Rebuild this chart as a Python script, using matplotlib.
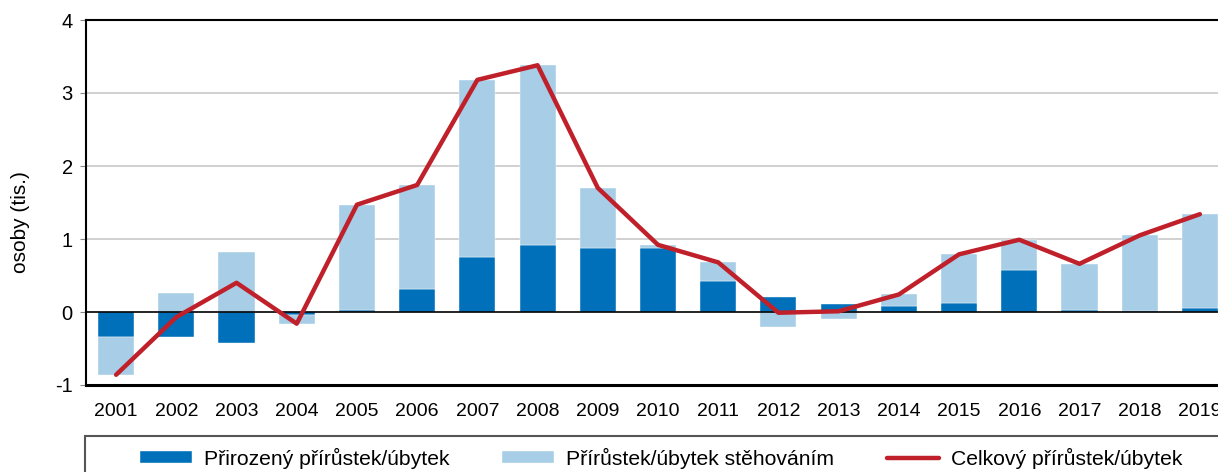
import matplotlib
matplotlib.use("Agg")
import matplotlib.pyplot as plt
from matplotlib.patches import Rectangle
import numpy as np

plt.rcParams['font.family'] = ['Liberation Sans', 'DejaVu Sans']

years = [str(y) for y in range(2001, 2020)]
# prirozeny prirustek (tis. osob)
natural = [-0.34, -0.34, -0.42, -0.04, 0.03, 0.32, 0.75, 0.92, 0.88, 0.88,
           0.42, 0.20, 0.11, 0.08, 0.12, 0.57, 0.03, 0.02, 0.05]
# prirustek stehovanim
migration = [-0.52, 0.26, 0.82, -0.12, 1.44, 1.42, 2.43, 2.46, 0.82, 0.04,
             0.26, -0.21, -0.10, 0.16, 0.67, 0.42, 0.63, 1.04, 1.29]
# celkovy prirustek
total = [-0.86, -0.07, 0.40, -0.16, 1.47, 1.74, 3.18, 3.38, 1.70, 0.92,
         0.68, -0.01, 0.01, 0.24, 0.79, 0.99, 0.66, 1.05, 1.34]

c_nat = "#0070BA"
c_mig = "#A7CDE7"
c_tot = "#C0202A"

fig = plt.figure(figsize=(12.18, 4.72), dpi=100)
ax = fig.add_axes([86/1218, 1-385/472, 1144/1218, 365/472])

x = np.arange(len(years))
nat = np.array(natural)
mig = np.array(migration)
# migration stacks on top of natural when signs agree, otherwise starts at 0
base = np.where(np.sign(mig) == np.sign(nat), nat, 0)

for yv in [1, 2, 3]:
    ax.axhline(yv, color="#c8c8c8", lw=1.2, zorder=0)

b1 = ax.bar(x, nat, width=0.6, color=c_nat, edgecolor="white", linewidth=0.3, zorder=2)
b2 = ax.bar(x, mig, width=0.6, bottom=base, color=c_mig, edgecolor="white", linewidth=0.3, zorder=2)
ax.axhline(0, color="black", lw=1.2, zorder=3)
l1, = ax.plot(x, total, color=c_tot, lw=3.2, solid_capstyle="round", zorder=4)

ax.set_xlim(-0.5, len(years) - 0.5)
ax.set_ylim(-1, 4)
ax.set_yticks([-1, 0, 1, 2, 3, 4])
ax.set_yticklabels(["-1", "0", "1", "2", "3", "4"])
ax.set_xticks(x)
ax.set_xticklabels(years)
ax.tick_params(axis="x", length=0, pad=13, labelsize=14)
ax.tick_params(axis="y", length=4.5, color="#888888", pad=5, labelsize=14.5)
ax.set_ylabel("osoby (tis.)", fontsize=15)
ax.yaxis.set_label_coords(-0.049, 0.447)

for s in ["left", "top"]:
    ax.spines[s].set_linewidth(1.5)
ax.spines["bottom"].set_linewidth(2.2)
ax.spines["right"].set_visible(False)

fig.patches.append(Rectangle((85/1218, -0.1), 1.2, 0.1 + 1 - 436/472,
                             transform=fig.transFigure, fill=False,
                             edgecolor="#555555", lw=1.5))

fig.legend([b1, b2, l1],
           ["Přirozený přírůstek/úbytek", "Přírůstek/úbytek stěhováním", "Celkový přírůstek/úbytek"],
           loc="center", bbox_to_anchor=(661/1218, 1 - 458/472), ncol=3, frameon=False,
           fontsize=15.2, handlelength=2.46, handleheight=0.5, handletextpad=0.57,
           columnspacing=2.5, borderpad=0)

fig.savefig("out.png", dpi=100)
